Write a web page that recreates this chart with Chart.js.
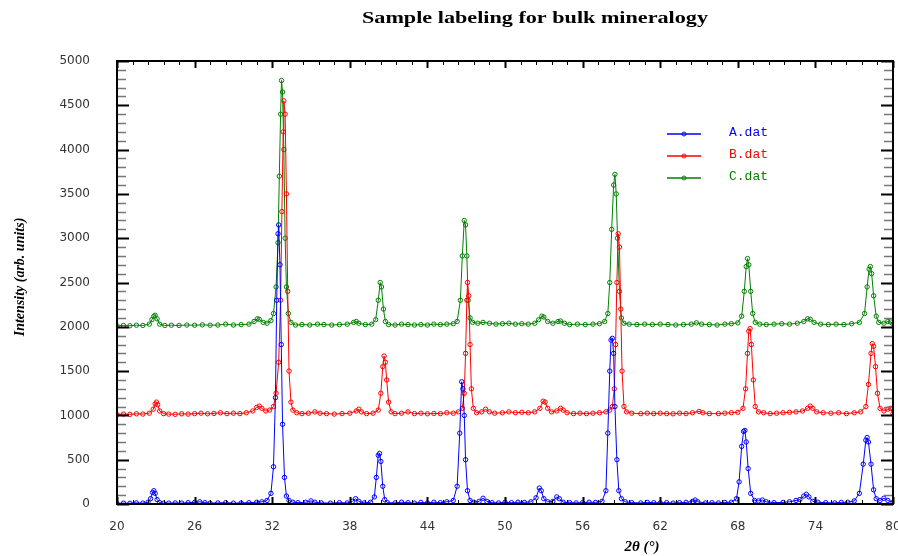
<!DOCTYPE html>
<html>
<head>
<meta charset="utf-8">
<script src="https://cdn.jsdelivr.net/npm/chart.js@4.4.1/dist/chart.umd.min.js"></script>
<style>
  html, body { margin: 0; padding: 0; background: #fff; }
  #xrd { display: block; }
</style>
</head>
<body>
<canvas id="xrd" width="898" height="556"></canvas>
<script>
// tick labels
const xTicks = [20, 26, 32, 38, 44, 50, 56, 62, 68, 74, 80];
const yTicks = [0, 500, 1000, 1500, 2000, 2500, 3000, 3500, 4000, 4500, 5000];
const seriesNames = ["A.dat", "B.dat", "C.dat"];

// [2theta, intensity]
const aData = [
  [20,5],[20.5,10],[21,8],[21.5,12],[22,10],[22.4,20],[22.6,60],[22.75,130],[22.85,150],[22.95,120],[23.1,50],[23.3,15],
  [23.6,8],[24,10],[24.5,12],[25,10],[25.5,15],[26,18],[26.4,25],[26.8,15],[27.2,10],[27.8,12],[28.4,15],[29,10],
  [29.6,12],[30.2,15],[30.8,20],[31.2,25],[31.6,40],[31.9,120],[32.1,420],[32.25,1200],[32.35,2300],[32.45,3050],
  [32.5,3150],[32.6,2700],[32.7,1800],[32.8,900],[32.95,300],[33.1,90],[33.3,40],[33.6,20],[34,15],[34.6,20],[35,35],
  [35.3,20],[35.8,12],[36.5,10],[37.2,15],[37.8,12],[38.2,30],[38.45,60],[38.7,30],[39.1,12],[39.6,20],[39.9,80],
  [40.05,300],[40.2,550],[40.3,570],[40.4,480],[40.55,200],[40.7,50],[40.9,15],[41.5,12],[42,20],[42.5,15],[43,10],
  [43.5,18],[44,12],[44.5,20],[45,15],[45.5,25],[46,40],[46.3,200],[46.5,800],[46.65,1380],[46.75,1300],[46.85,1000],
  [46.95,500],[47.1,150],[47.3,40],[47.6,20],[48,30],[48.3,65],[48.6,30],[49,15],[49.5,12],[50,20],[50.5,15],[51,20],
  [51.5,18],[52,25],[52.4,70],[52.65,180],[52.8,150],[53,60],[53.3,25],[53.7,30],[54,80],[54.2,60],[54.5,20],[55,15],
  [55.5,12],[56,15],[56.5,20],[57,18],[57.5,30],[57.8,150],[57.95,800],[58.1,1500],[58.2,1850],[58.3,1870],[58.4,1700],
  [58.5,1100],[58.65,500],[58.8,150],[59,60],[59.3,25],[59.8,15],[60.5,12],[61,18],[61.5,15],[62,12],[62.5,15],[63,10],
  [63.5,15],[64,18],[64.5,30],[64.7,45],[64.9,25],[65.5,12],[66,15],[66.5,12],[67,18],[67.5,20],[67.9,60],[68.1,250],
  [68.3,650],[68.45,820],[68.55,830],[68.65,700],[68.8,400],[69,120],[69.3,40],[69.6,35],[69.9,45],[70.2,25],[70.8,15],
  [71.5,18],[72,25],[72.5,40],[72.8,50],[73.1,90],[73.3,110],[73.5,80],[73.8,30],[74.2,20],[74.8,15],[75.5,12],[76,18],
  [76.5,20],[77,35],[77.4,120],[77.7,450],[77.9,720],[78,750],[78.1,700],[78.3,450],[78.5,160],[78.7,60],[79,40],
  [79.3,65],[79.6,40],[80,20]
];
const bData = [
  [20,1010],[20.5,1015],[21,1012],[21.5,1018],[22,1015],[22.5,1025],[22.8,1070],[22.95,1130],[23.05,1150],[23.15,1120],
  [23.3,1050],[23.6,1020],[24,1015],[24.5,1012],[25,1018],[25.5,1015],[26,1020],[26.5,1025],[27,1018],[27.5,1022],
  [28,1030],[28.5,1020],[29,1025],[29.5,1020],[30,1030],[30.5,1050],[30.8,1090],[31,1105],[31.2,1080],[31.5,1050],
  [31.8,1060],[32.1,1100],[32.3,1250],[32.5,1600],[32.65,2300],[32.75,3300],[32.85,4200],[32.9,4550],[33,4400],
  [33.1,3500],[33.2,2400],[33.3,1500],[33.45,1150],[33.6,1060],[33.9,1030],[34.3,1020],[34.8,1025],[35.3,1040],
  [35.7,1025],[36.2,1020],[36.8,1015],[37.4,1020],[38,1025],[38.5,1050],[38.7,1070],[38.9,1040],[39.3,1020],[39.8,1025],
  [40.2,1060],[40.4,1250],[40.55,1550],[40.65,1670],[40.75,1600],[40.85,1400],[41,1150],[41.2,1040],[41.5,1020],
  [42,1025],[42.5,1040],[43,1020],[43.5,1025],[44,1018],[44.5,1022],[45,1020],[45.5,1030],[46,1025],[46.4,1040],
  [46.7,1080],[46.85,1250],[46.95,1700],[47.05,2300],[47.1,2500],[47.2,2350],[47.3,1800],[47.4,1300],[47.55,1080],
  [47.8,1030],[48.2,1040],[48.5,1070],[48.8,1040],[49.2,1025],[49.8,1030],[50.3,1040],[50.8,1030],[51.3,1035],
  [51.8,1030],[52.3,1040],[52.7,1080],[52.95,1160],[53.1,1150],[53.3,1080],[53.6,1040],[54,1050],[54.3,1080],
  [54.5,1060],[54.8,1030],[55.3,1020],[55.8,1025],[56.3,1020],[56.8,1025],[57.3,1030],[57.8,1040],[58.1,1060],
  [58.3,1100],[58.45,1300],[58.55,1800],[58.65,2500],[58.75,3050],[58.85,2900],[58.95,2200],[59.05,1500],[59.2,1100],
  [59.4,1040],[59.8,1025],[60.5,1020],[61,1025],[61.5,1020],[62,1025],[62.5,1020],[63,1018],[63.5,1025],[64,1020],
  [64.5,1030],[65,1045],[65.3,1030],[65.8,1020],[66.5,1020],[67,1025],[67.5,1030],[68,1035],[68.4,1080],[68.6,1300],
  [68.75,1700],[68.85,1950],[68.95,1980],[69.05,1800],[69.2,1400],[69.35,1100],[69.6,1040],[70,1030],[70.5,1020],
  [71,1025],[71.5,1030],[72,1035],[72.5,1040],[73,1050],[73.4,1080],[73.6,1105],[73.8,1080],[74.1,1040],[74.6,1030],
  [75.2,1025],[75.8,1030],[76.4,1020],[77,1030],[77.5,1040],[77.9,1100],[78.1,1350],[78.3,1700],[78.4,1810],
  [78.5,1780],[78.65,1550],[78.8,1250],[79,1080],[79.3,1050],[79.6,1070],[79.8,1080],[80,1020]
];
const cData = [
  [20,2010],[20.5,2015],[21,2012],[21.5,2018],[22,2015],[22.5,2030],[22.7,2080],[22.85,2120],[22.95,2130],[23.1,2090],
  [23.3,2030],[23.7,2015],[24.2,2018],[24.8,2015],[25.4,2020],[26,2018],[26.6,2022],[27.2,2018],[27.8,2020],[28.4,2030],
  [29,2020],[29.6,2025],[30.2,2030],[30.6,2060],[30.85,2090],[31,2085],[31.3,2050],[31.6,2040],[31.9,2070],[32.1,2150],
  [32.3,2450],[32.45,2950],[32.55,3700],[32.65,4400],[32.72,4780],[32.8,4650],[32.9,4000],[33,3000],[33.1,2450],
  [33.25,2150],[33.45,2050],[33.8,2020],[34.3,2025],[34.9,2020],[35.5,2030],[36,2025],[36.6,2020],[37.2,2025],
  [37.8,2030],[38.3,2050],[38.5,2060],[38.7,2040],[39.2,2025],[39.7,2030],[40,2080],[40.2,2300],[40.35,2500],
  [40.45,2450],[40.6,2200],[40.75,2060],[41,2025],[41.5,2020],[42,2030],[42.5,2025],[43,2020],[43.5,2025],[44,2020],
  [44.5,2030],[45,2025],[45.5,2030],[46,2035],[46.3,2060],[46.55,2300],[46.7,2800],[46.85,3200],[46.95,3150],
  [47.05,2800],[47.15,2300],[47.3,2100],[47.5,2050],[47.9,2040],[48.3,2050],[48.8,2040],[49.3,2030],[49.8,2035],
  [50.3,2040],[50.8,2030],[51.3,2035],[51.8,2030],[52.3,2040],[52.6,2080],[52.85,2120],[53,2110],[53.3,2060],
  [53.7,2040],[54.1,2060],[54.3,2065],[54.6,2040],[55,2025],[55.6,2030],[56.2,2025],[56.8,2030],[57.3,2035],
  [57.7,2060],[57.95,2150],[58.1,2500],[58.25,3100],[58.4,3600],[58.5,3720],[58.6,3500],[58.7,3000],[58.85,2400],
  [59,2100],[59.2,2040],[59.6,2030],[60.2,2025],[60.8,2030],[61.4,2025],[62,2030],[62.6,2025],[63.2,2020],[63.8,2025],
  [64.4,2030],[64.8,2045],[65.2,2030],[65.8,2025],[66.4,2020],[67,2030],[67.5,2035],[68,2045],[68.3,2120],[68.5,2400],
  [68.65,2680],[68.75,2770],[68.85,2700],[69,2400],[69.15,2150],[69.35,2050],[69.7,2030],[70.2,2025],[70.8,2030],
  [71.4,2035],[72,2030],[72.6,2040],[73.1,2060],[73.4,2090],[73.6,2085],[73.9,2050],[74.4,2030],[75,2025],[75.6,2030],
  [76.2,2025],[76.8,2035],[77.4,2050],[77.8,2150],[78,2450],[78.15,2650],[78.25,2680],[78.35,2600],[78.5,2350],
  [78.7,2120],[78.9,2050],[79.3,2040],[79.6,2060],[79.8,2055],[80,2030]
];
const colors = ["#0000ff", "#ff0000", "#008000"];

function toPoints(arr) {
  return arr.map((p) => ({ x: p[0], y: p[1] }));
}

// frame, inward ticks, legend, titles
const decorations = {
  id: "decorations",
  afterDraw(chart) {
    const ctx = chart.ctx;
    const a = chart.chartArea;
    const xs = chart.scales.x;
    const ys = chart.scales.y;
    ctx.save();

    // y ticks (major every 500, minor every 100) on both sides
    for (let v = yTicks[0]; v <= yTicks[yTicks.length - 1]; v += 100) {
      const py = Math.round(ys.getPixelForValue(v)) + 0.5;
      const major = v % 500 === 0;
      ctx.strokeStyle = major ? "#000" : "#777";
      ctx.lineWidth = major ? 2 : 1.5;
      const len = major ? 12 : 9;
      ctx.beginPath();
      ctx.moveTo(a.left, py); ctx.lineTo(a.left + len, py);
      ctx.moveTo(a.right, py); ctx.lineTo(a.right - len, py);
      ctx.stroke();
    }
    // x ticks (major every 6, minor every 1.2) top and bottom
    for (let i = 0; i <= 50; i++) {
      const v = xTicks[0] + i * 1.2;
      const px = Math.round(xs.getPixelForValue(v)) + 0.5;
      const major = i % 5 === 0;
      ctx.strokeStyle = "#000";
      ctx.lineWidth = major ? 2 : 1;
      const len = major ? 7 : 4;
      ctx.beginPath();
      ctx.moveTo(px, a.bottom); ctx.lineTo(px, a.bottom - len);
      ctx.moveTo(px, a.top); ctx.lineTo(px, a.top + len);
      ctx.stroke();
    }
    // frame
    ctx.strokeStyle = "#000";
    ctx.lineWidth = 2;
    ctx.strokeRect(a.left, a.top, a.right - a.left, a.bottom - a.top);

    // legend
    chart.data.datasets.forEach((ds, i) => {
      const y = 134 + i * 22;
      ctx.strokeStyle = ds.borderColor;
      ctx.lineWidth = 1.5;
      ctx.beginPath();
      ctx.moveTo(667, y); ctx.lineTo(701, y);
      ctx.stroke();
      ctx.lineWidth = 1;
      ctx.beginPath();
      ctx.arc(684, y, 2, 0, Math.PI * 2);
      ctx.stroke();
      ctx.fillStyle = ds.borderColor;
      ctx.font = "13px 'Liberation Mono'";
      ctx.textBaseline = "middle";
      ctx.textAlign = "left";
      ctx.fillText(ds.label, 729, y - 1);
    });

    // titles
    ctx.fillStyle = "#000";
    ctx.textAlign = "center";
    ctx.textBaseline = "middle";
    ctx.font = "bold 17px 'Liberation Serif'";
    const title = "Sample labeling for bulk mineralogy";
    const stretch = 346 / ctx.measureText(title).width;
    ctx.save();
    ctx.translate(535, 19);
    ctx.scale(stretch, 1);
    ctx.fillText(title, 0, 0);
    ctx.restore();
    ctx.font = "italic bold 15px 'Liberation Serif'";
    ctx.fillText("2\u03b8 (\u00b0)", 642, 547);
    ctx.translate(20, 277);
    ctx.rotate(-Math.PI / 2);
    ctx.font = "italic bold 14px 'Liberation Serif'";
    ctx.fillText("Intensity (arb. units)", 0, 0);
    ctx.restore();
  },
};

const ctx = document.getElementById("xrd").getContext("2d");
new Chart(ctx, {
  type: "line",
  data: {
    datasets: [aData, bData, cData].map((d, i) => ({
      label: seriesNames[i],
      data: toPoints(d),
      borderColor: colors[i],
      backgroundColor: "rgba(0,0,0,0)",
      borderWidth: 1,
      pointRadius: 2.2,
      pointBorderWidth: 1,
      pointBorderColor: colors[i],
      pointBackgroundColor: "rgba(0,0,0,0)",
      tension: 0,
      fill: false,
    })),
  },
  options: {
    responsive: false,
    animation: false,
    layout: { padding: { top: 61, right: 5, left: 0, bottom: 0 } },
    plugins: {
      legend: { display: false },
      title: { display: false },
      tooltip: { enabled: false },
    },
    scales: {
      x: {
        type: "linear",
        min: 20,
        max: 80,
        grid: { display: false, drawTicks: false },
        border: { display: false },
        afterBuildTicks: (s) => { s.ticks = xTicks.map((v) => ({ value: v })); },
        afterFit: (s) => {
          s.height = 52;
          s.paddingLeft = 0;
          s.paddingRight = 0;
        },
        ticks: {
          padding: 16,
          color: "#333",
          font: { family: "DejaVu Sans", size: 12 },
          callback: (v) => String(v),
        },
      },
      y: {
        min: 0,
        max: 5000,
        grid: { display: false, drawTicks: false },
        border: { display: false },
        afterBuildTicks: (s) => { s.ticks = yTicks.map((v) => ({ value: v })); },
        afterFit: (s) => {
          s.width = 117;
          s.paddingTop = 0;
          s.paddingBottom = 0;
        },
        ticks: {
          padding: 27,
          color: "#333",
          font: { family: "DejaVu Sans", size: 12 },
          callback: (v) => String(v),
        },
      },
    },
  },
  plugins: [decorations],
});
</script>
</body>
</html>
